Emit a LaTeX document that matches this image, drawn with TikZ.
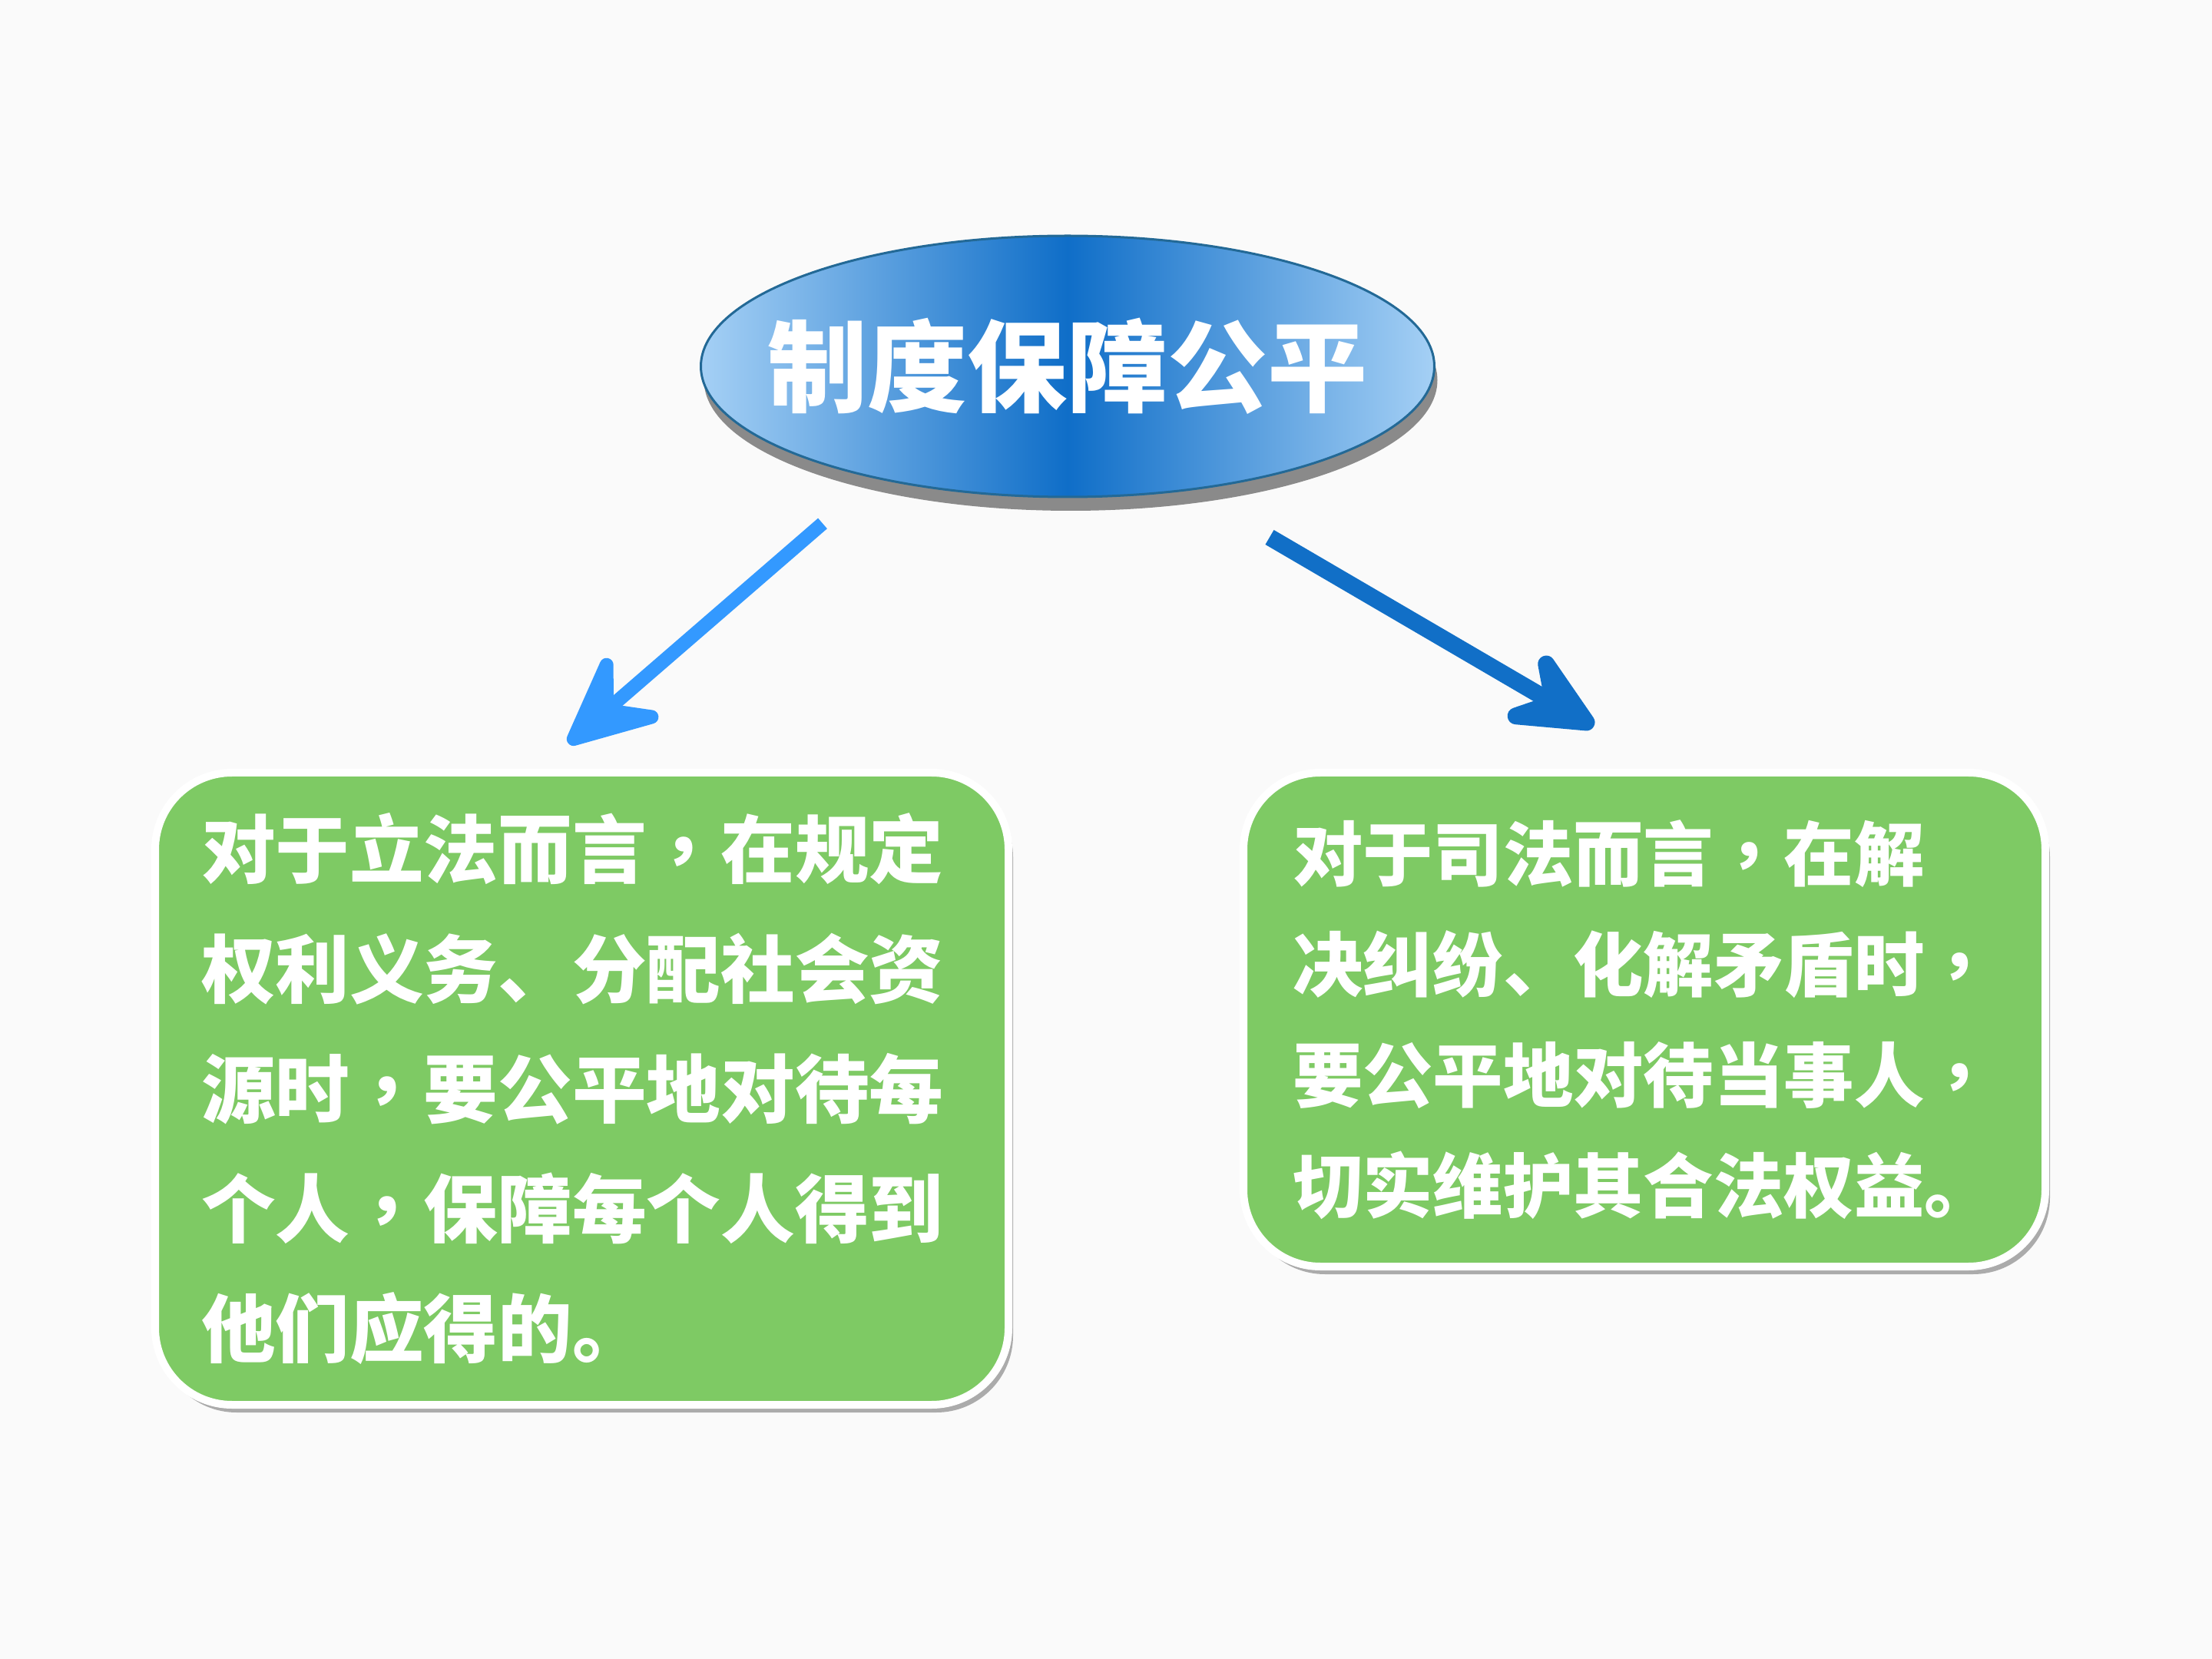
\documentclass[tikz,border=0pt]{standalone}
\usepackage{fontspec}
\newfontfamily\cjk{Noto Sans CJK SC}[BoldFont={Noto Sans CJK SC Black}]
\newfontfamily\cjktc{Noto Sans CJK TC}[BoldFont={Noto Sans CJK TC Black}]
\newcommand\zcomma{{\cjktc\bfseries ，}}
\usetikzlibrary{arrows.meta, shapes.geometric, shadows}
\definecolor{bgwhite}{RGB}{250,250,250}
\definecolor{topiclight}{RGB}{165,208,245}
\definecolor{topicdark}{RGB}{15,110,200}
\definecolor{topicedge}{RGB}{35,105,150}
\definecolor{boxgreen}{RGB}{126,202,100}
\definecolor{arrlight}{RGB}{51,153,255}
\definecolor{arrdark}{RGB}{17,111,199}

\begin{document}
\begin{tikzpicture}[
  topic/.style={ellipse, draw=topicedge, line width=0.03cm, left color=topiclight, right color=topiclight, middle color=topicdark,
    minimum width=9.55cm, minimum height=3.4cm, inner sep=-0.7cm, text=white, font=\cjk\bfseries\fontsize{37}{40}\selectfont,
    drop shadow={shadow xshift=0.04cm, shadow yshift=-0.18cm, opacity=0.6, fill=black!75}},
  textbox/.style={rounded corners=1cm, draw=white, line width=0.1cm, fill=boxgreen, text=white, align=left, anchor=north west,
    inner ysep=0pt, drop shadow={shadow xshift=0.06cm, shadow yshift=-0.1cm, opacity=0.45, fill=black!70}},
  arr/.style={line width=0.18cm, -{Stealth[length=1.5cm, width=1.4cm, inset=0.6cm, round]}},
]
  % Background
  \fill[bgwhite] (0,0) rectangle (28.8,-21.6);

  % Main topic
  \node[topic] (topic) at (13.90,-4.77) {制度保障公平};

  % Two branches
  \node[textbox, text width=9.91cm, inner xsep=0.6cm, minimum height=8.23cm, font=\cjk\bfseries\fontsize{27.5}{44.4}\selectfont]
    (legis) at (1.97,-10.01) {对于立法而言\zcomma 在规定\\权利义务、分配社会资\\源时\zcomma 要公平地对待每\\个人\zcomma 保障每个人得到\\他们应得的。};
  \node[textbox, text width=9.16cm, inner xsep=0.64cm, minimum height=6.43cm, font=\cjk\bfseries\fontsize{26}{41}\selectfont]
    (judic) at (16.14,-10.01) {对于司法而言\zcomma 在解\\决纠纷、化解矛盾时\zcomma\\要公平地对待当事人\zcomma\\切实维护其合法权益。};

  \draw[arr, arrlight] ([xshift=-3.19cm, yshift=-0.33cm]topic.south) -- ([xshift=-0.175cm, yshift=0.33cm]legis.north);
  \draw[arr, arrdark, line width=0.22cm] ([xshift=2.63cm, yshift=-0.51cm]topic.south) -- ([xshift=-0.66cm, yshift=0.55cm]judic.north);

\end{tikzpicture}
\end{document}
